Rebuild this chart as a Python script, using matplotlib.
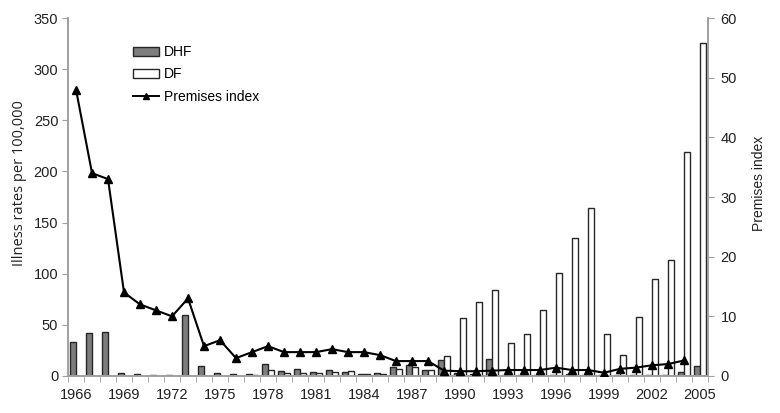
import matplotlib
matplotlib.use("Agg")
import matplotlib.pyplot as plt
import numpy as np
from matplotlib.patches import Patch
from matplotlib.lines import Line2D

years = list(range(1966, 2006))
dhf = [33, 42, 43, 3, 1.5, 1, 1, 60, 10, 2.5, 1.5, 2, 12, 5, 6.5, 4,
       6, 4, 1.5, 3, 9, 10.5, 5.5, 16, 3, 2, 17, 1, 1, 1, 1, 2, 1, 1,
       1, 1, 1, 1, 4, 9.5]
df = [0, 0, 0, 0, 0, 0, 0, 0, 0, 0, 0, 1, 6, 3, 3, 2.5,
      4, 5, 1.5, 2, 6.5, 8.5, 5.5, 19.5, 57, 72.6, 84, 32, 41.5, 65, 101, 134.6, 164.5, 41.5,
      20.5, 57.5, 94.5, 113, 219, 326]
premises = [48, 34, 33, 14, 12, 11, 10, 13, 5, 6, 3, 4, 5, 4, 4, 4,
            4.5, 4, 4, 3.5, 2.5, 2.5, 2.5, 0.9, 0.8, 0.8, 0.9, 1.0, 1.0, 1.0, 1.4, 1.0, 1.0, 0.55,
            1.2, 1.4, 1.8, 2.0, 2.6, np.nan]
left_ticks = [0, 50, 100, 150, 200, 250, 300, 350]
right_ticks = [0, 10, 20, 30, 40, 50, 60]

fig = plt.figure(figsize=(7.8, 4.13), dpi=100)
ax = fig.add_axes([0.0872, 0.0896, 0.8205, 0.8668])
ax2 = ax.twinx()

x = np.arange(len(years))
w = 0.35
spine_c = '#a0a0a0'
dhf_c = '#7e7e7e'
edge_c = '#262626'
ax.bar(x - w / 2 - 0.01, dhf, width=w, facecolor=dhf_c, edgecolor=edge_c, linewidth=1.0, zorder=2)
ax.bar(x + w / 2 + 0.01, df, width=w, facecolor='white', edgecolor=edge_c, linewidth=1.0, zorder=2)
ax2.plot(x, premises, color='black', lw=1.5, marker='^', ms=6, zorder=3)

ax.set_xlim(-0.5, len(years) - 0.5)
ax.set_ylim(0, 350)
ax2.set_ylim(0, 60)
ax.set_yticks(left_ticks)
ax2.set_yticks(right_ticks)

ax.set_xticks(x[::3])
ax.set_xticklabels([str(y) for y in years[::3]])
ax.set_xticks(np.arange(-0.5, len(years), 1), minor=True)
ax.tick_params(axis='x', which='major', length=0, pad=9)
ax.tick_params(axis='x', which='minor', length=4, color=spine_c, direction='out')

for lab in ax.get_xticklabels() + ax.get_yticklabels() + ax2.get_yticklabels():
    lab.set_fontfamily('Liberation Sans')
    lab.set_fontsize(10.5)
    lab.set_color('#222222')
ax.tick_params(axis='y', length=4, color=spine_c, pad=3)
ax2.tick_params(axis='y', length=4, color=spine_c, pad=5)

for a in (ax, ax2):
    a.spines['top'].set_visible(False)
    for s in ('left', 'right', 'bottom'):
        a.spines[s].set_color(spine_c)
        a.spines[s].set_linewidth(1.2)

ax.set_ylabel('Illness rates per 100,000', fontfamily='Open Sans', fontsize=10.5, color='#222222')
ax.yaxis.set_label_coords(-0.064, 0.539)
ax2.set_ylabel('Premises index', fontfamily='Liberation Sans', fontsize=10, color='#222222')
ax2.yaxis.set_label_coords(1.068, 0.539)

handles = [Patch(facecolor=dhf_c, edgecolor=edge_c, linewidth=1.0),
           Patch(facecolor='white', edgecolor=edge_c, linewidth=1.0),
           Line2D([], [], color='black', lw=1.4, marker='^', ms=5)]
leg = ax.legend(handles, ['DHF', 'DF', 'Premises index'], loc='upper left',
                bbox_to_anchor=(0.093, 0.94), frameon=False,
                prop={'family': 'Liberation Sans', 'size': 10},
                handlelength=1.9, handleheight=0.6, handletextpad=0.35, labelspacing=0.6,
                borderaxespad=0)

fig.savefig('out.png', dpi=100)
